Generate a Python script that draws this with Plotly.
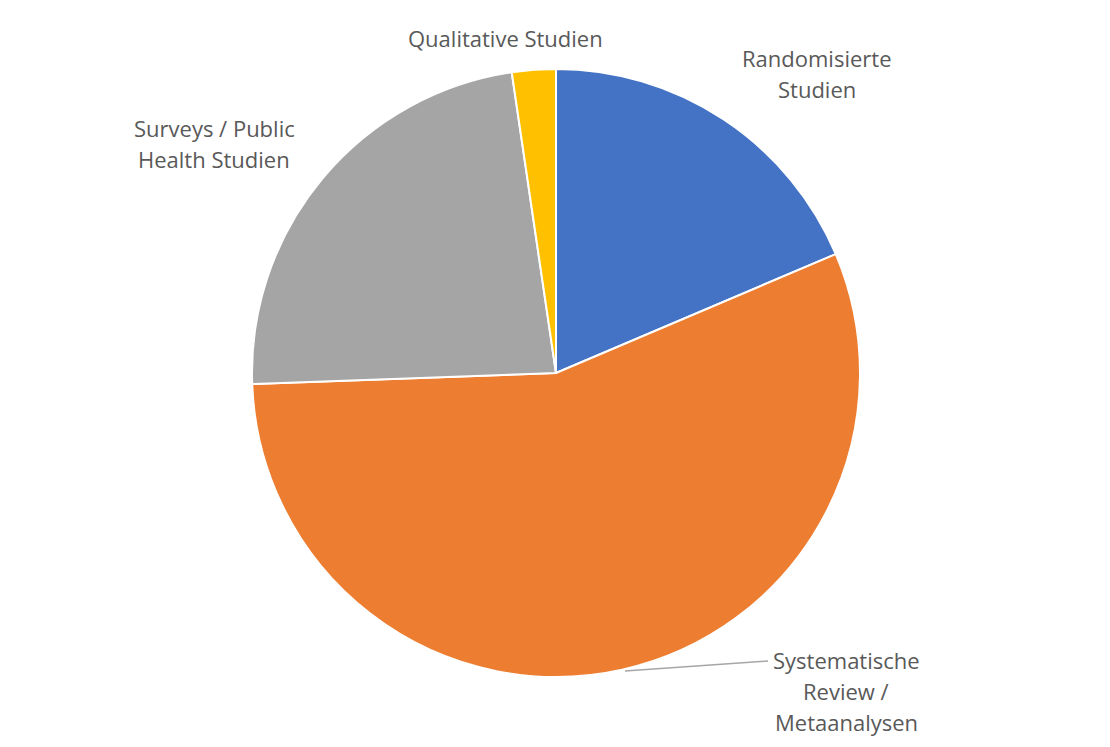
import plotly.graph_objects as go

categories = ["Randomisierte Studien", "Systematische Review / Metaanalysen",
              "Surveys / Public Health Studien", "Qualitative Studien"]
values = [8, 24, 10, 1]
colors = ["#4472C4", "#ED7D31", "#A5A5A5", "#FFC000"]

# label lines and positions (pixel centre of each label's first line)
label_lines = [
    (["Randomisierte", "Studien"], 817, 58),
    (["Systematische", "Review /", "Metaanalysen"], 846, 660),
    (["Surveys / Public", "Health Studien"], 214, 128),
    (["Qualitative Studien"], 505, 38),
]

W, H = 1110, 747
cx, cy, r = 556, 373, 304

fig = go.Figure(go.Pie(
    labels=categories, values=values, sort=False, direction="clockwise",
    rotation=0, textinfo="none", hoverinfo="label+value",
    marker=dict(colors=colors, line=dict(color="white", width=2)),
    domain=dict(x=[(cx - r) / W, (cx + r) / W], y=[(H - cy - r) / H, (H - cy + r) / H]),
    showlegend=False,
))

line_h = 31
for lines, x, y0 in label_lines:
    for i, t in enumerate(lines):
        fig.add_annotation(text=t, x=x / W, y=1 - (y0 + i * line_h) / H,
                           xref="paper", yref="paper", showarrow=False,
                           xanchor="center", yanchor="middle",
                           font=dict(family="Open Sans", size=22, color="#595959"))

# leader line for the Systematische Review label
fig.add_shape(type="line", xref="paper", yref="paper",
              x0=625 / W, y0=1 - 671 / H, x1=768 / W, y1=1 - 661 / H,
              line=dict(color="#A6A6A6", width=1.5))

fig.update_layout(width=W, height=H, margin=dict(l=0, r=0, t=0, b=0),
                  paper_bgcolor="white", plot_bgcolor="white")
fig.write_html("out.html", config={"displayModeBar": False},
               post_script="document.body.style.margin='0';")
